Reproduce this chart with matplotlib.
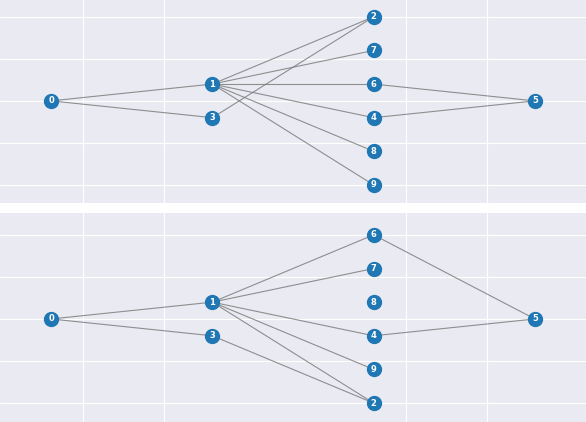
import matplotlib
matplotlib.use("Agg")
import matplotlib.pyplot as plt
import seaborn as sns

sns.set_style("darkgrid")

# top graph
top_pos = {0: (0, 0), 1: (1, 0.4), 3: (1, -0.4), 2: (2, 2.0), 7: (2, 1.2), 6: (2, 0.4),
           4: (2, -0.4), 8: (2, -1.2), 9: (2, -2.0), 5: (3, 0)}
top_edges = [(0, 1), (0, 3), (1, 2), (1, 7), (1, 6), (1, 4), (1, 8), (1, 9), (3, 2), (6, 5), (4, 5)]
# bottom graph
bot_pos = {0: (0, 0), 1: (1, 0.4), 3: (1, -0.4), 6: (2, 2.0), 7: (2, 1.2), 8: (2, 0.4),
           4: (2, -0.4), 9: (2, -1.2), 2: (2, -2.0), 5: (3, 0)}
bot_edges = [(0, 1), (0, 3), (1, 6), (1, 7), (1, 4), (1, 9), (1, 2), (3, 2), (6, 5), (4, 5)]

fig = plt.figure(figsize=(5.86, 4.22), dpi=100)
ax1 = fig.add_axes([0, 1 - 203 / 422, 1, 203 / 422])
ax2 = fig.add_axes([0, 0, 1, 209 / 422])

def draw(ax, pos, edges, ylim):
    for a, b in edges:
        xa, ya = pos[a]; xb, yb = pos[b]
        ax.plot([xa, xb], [ya, yb], color="#777777", lw=0.8, alpha=0.8, zorder=1)
    for n, (x, y) in pos.items():
        ax.plot(x, y, "o", color="#1f77b4", ms=10, zorder=2)
        ax.text(x, y, str(n), color="white", fontsize=6, fontweight="bold",
                ha="center", va="center", zorder=3)
    ax.set_xlim(-0.317, 3.317)
    ax.set_ylim(*ylim)
    ax.set_xticks([0.2, 0.7, 2.2, 2.7])
    ax.set_yticks([-2, -1, 0, 1, 2])
    ax.set_xticklabels([]); ax.set_yticklabels([])
    ax.tick_params(length=0)
    for s in ax.spines.values():
        s.set_visible(False)

draw(ax1, top_pos, top_edges, (-2.43, 2.4))
draw(ax2, bot_pos, bot_edges, (-2.45, 2.52))
fig.savefig("out.png", dpi=100)
